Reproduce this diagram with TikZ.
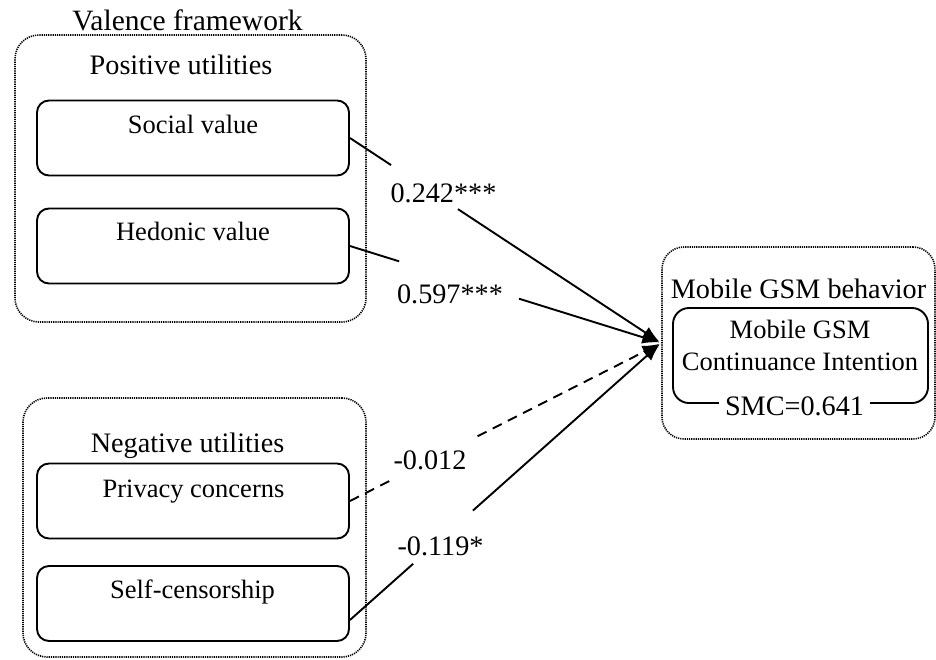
\documentclass[tikz,border=0pt]{standalone}
\usepackage{fontspec}
\setmainfont{Liberation Serif}
\usetikzlibrary{arrows.meta}
\begin{document}
\begin{tikzpicture}[x=1pt,y=-1pt,
  txt/.style={font=\fontsize{26.5}{30}\selectfont, inner sep=0pt, anchor=base},
  hdr/.style={font=\fontsize{28.2}{32}\selectfont, inner sep=0pt, anchor=base},
  outerbox/.style={draw, line width=1.6pt, dash pattern=on 1.2pt off 1.0pt, rounded corners=24pt, inner sep=0pt},
  varbox/.style={draw, line width=1.9pt, rounded corners=12pt, minimum width=312pt, minimum height=75pt, inner sep=0pt},
  conn/.style={line width=1.9pt},
  dashconn/.style={line width=1.9pt, dash pattern=on 10pt off 7pt},
  tip/.style={-{Latex[length=17pt,width=13pt]}, shorten >=2pt},
]
\useasboundingbox (0,0) rectangle (936,659);
% Valence framework
\node[outerbox, minimum width=351pt, minimum height=287pt] (pos) at (190.5,178.5) {};
\node[hdr, font=\fontsize{29.5}{33}\selectfont] (valt) at (187.5,30) {Valence framework};
\node[hdr] (post) at (181,74) {Positive utilities};
\node[varbox] (soc) at (193,138) {};
\node[txt] (soct) at (193,133) {Social value};
\node[varbox] (hed) at (193,246) {};
\node[txt] (hedt) at (193,240) {Hedonic value};
\node[outerbox, minimum width=343pt, minimum height=259pt] (neg) at (194.5,527.5) {};
\node[hdr] (negt) at (187.5,452) {Negative utilities};
\node[varbox] (pri) at (193,501) {};
\node[txt] (prit) at (193.5,497) {Privacy concerns};
\node[varbox] (sel) at (193,603.5) {};
\node[txt] (selt) at (192.5,598) {Self-censorship};
% Mobile GSM behavior
\node[outerbox, rounded corners=22pt, minimum width=273pt, minimum height=192pt] (mob) at (798.5,343) {};
\node[hdr] (mobt) at (798.5,298) {Mobile GSM behavior};
\node[draw, line width=1.9pt, rounded corners=16pt, minimum width=255pt, minimum height=95pt, inner sep=0pt] (cont) at (800.5,355.5) {};
\node[txt] (contt1) at (800,338) {Mobile GSM};
\node[txt] (contt2) at (800,370) {Continuance Intention};
\node[hdr, fill=white, inner xsep=6pt] (smc) at (794.5,415) {SMC=0.641};
% connectors
\path (soc.east) -- (mob.west) coordinate[pos=0.132] (s1) coordinate[pos=0.347] (s2);
\draw[conn] (soc.east) -- (s1);
\draw[conn, tip] (s2) -- (mob.west);
\path (hed.east) -- (mob.west) coordinate[pos=0.158] (h1) coordinate[pos=0.543] (h2);
\draw[conn] (hed.east) -- (h1);
\draw[conn, tip] (h2) -- (mob.west);
\path (pri.east) -- (mob.west) coordinate[pos=0.132] (p1) coordinate[pos=0.41] (p2);
\draw[dashconn] (pri.east) -- (p1);
\draw[dashconn, tip] (p2) -- (mob.west);
\path (sel.-6.6) -- (mob.west) coordinate[pos=0.203] (c1) coordinate[pos=0.395] (c2);
\draw[conn] (sel.-6.6) -- (c1);
\draw[conn, tip] (c2) -- (mob.west);
% path labels
\node[hdr] (l1) at (443.5,202) {0.242***};
\node[hdr] (l2) at (450,303) {0.597***};
\node[hdr] (l3) at (430,469) {-0.012};
\node[hdr] (l4) at (440.5,555) {-0.119*};
\end{tikzpicture}
\end{document}
